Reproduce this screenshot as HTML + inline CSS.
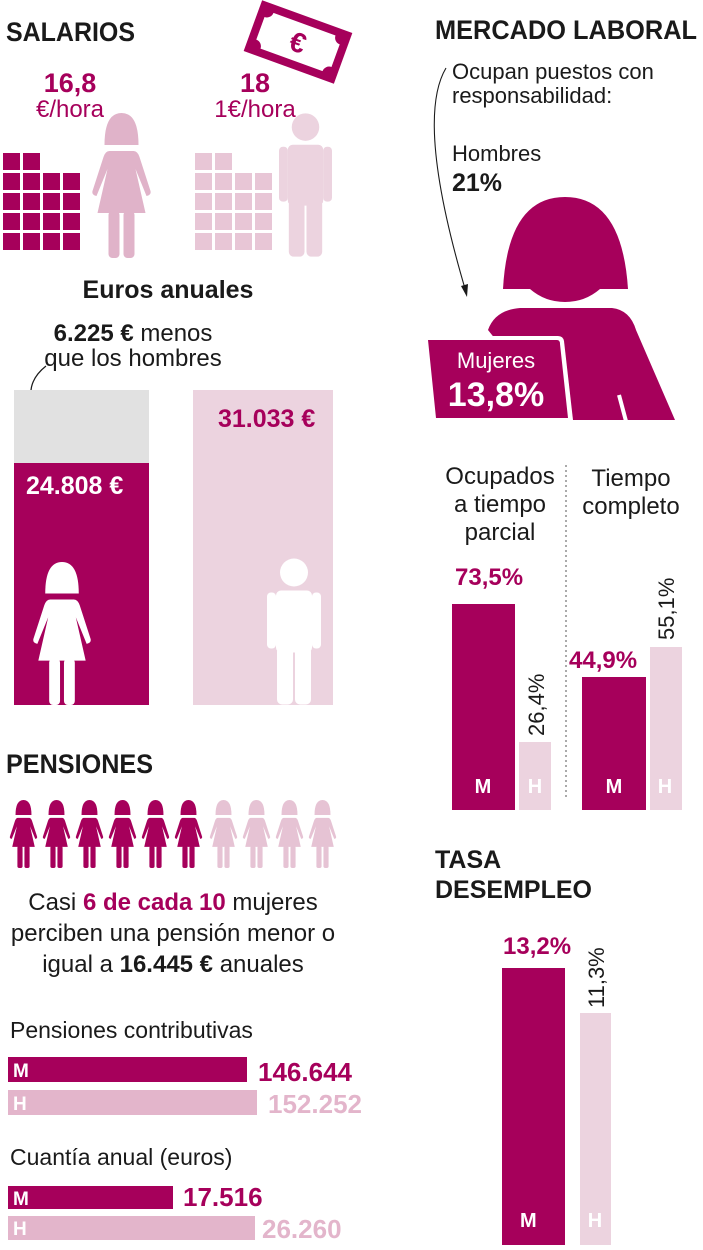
<!DOCTYPE html>
<html><head><meta charset="utf-8"><style>
html,body{margin:0;padding:0;background:#fff;}
svg{display:block;font-family:"Liberation Sans Narrow","Liberation Sans",sans-serif;}
.b{font-weight:bold;}
</style></head><body>
<svg width="703" height="1250" viewBox="0 0 703 1250" xmlns="http://www.w3.org/2000/svg">
<defs>
<symbol id="wom" viewBox="0 0 66 145">
<path d="M16 32 Q16 0 33 0 Q50 0 50 32 Z"/>
<path d="M21 38 H45 Q49 38 51 44 L62 78 Q63 82 58 83 L47 56 L57 100 H9 L19 56 L8 83 Q3 82 4 78 L15 44 Q17 38 21 38 Z"/>
<rect x="20" y="98" width="11" height="47" rx="4"/>
<rect x="35" y="98" width="11" height="47" rx="4"/>
</symbol>
<symbol id="man" viewBox="0 0 54 146">
<circle cx="27" cy="14" r="14"/>
<rect x="9" y="32" width="36" height="62" rx="5"/>
<rect x="0" y="34" width="9" height="56" rx="4"/>
<rect x="45" y="34" width="9" height="56" rx="4"/>
<rect x="10" y="88" width="16" height="58" rx="5"/>
<rect x="28" y="88" width="16" height="58" rx="5"/>
</symbol>
</defs>

<!-- SALARIOS -->
<text x="6" y="41" class="b" font-size="27" fill="#1a1a1a" textLength="129" lengthAdjust="spacingAndGlyphs">SALARIOS</text>
<g transform="translate(298,42) rotate(20)">
<rect x="-48" y="-27" width="96" height="54" fill="#a6005b"/>
<rect x="-40" y="-19" width="80" height="38" fill="#fff"/>
<circle cx="-40" cy="-19" r="7" fill="#a6005b"/><circle cx="40" cy="-19" r="7" fill="#a6005b"/>
<circle cx="-40" cy="19" r="7" fill="#a6005b"/><circle cx="40" cy="19" r="7" fill="#a6005b"/>
<text x="0" y="10" text-anchor="middle" class="b" font-size="28" fill="#a6005b">€</text>
</g>
<text x="70" y="92" text-anchor="middle" class="b" font-size="27" fill="#a6005b">16,8</text>
<text x="70" y="117" text-anchor="middle" font-size="24" fill="#a6005b">€/hora</text>
<text x="255" y="92" text-anchor="middle" class="b" font-size="27" fill="#a6005b">18</text>
<text x="255" y="117" text-anchor="middle" font-size="24" fill="#a6005b">1€/hora</text>
<g fill="#a6005b">
<rect x="3" y="153" width="17" height="17"/><rect x="23" y="153" width="17" height="17"/>
<rect x="3" y="173" width="17" height="17"/><rect x="23" y="173" width="17" height="17"/><rect x="43" y="173" width="17" height="17"/><rect x="63" y="173" width="17" height="17"/>
<rect x="3" y="193" width="17" height="17"/><rect x="23" y="193" width="17" height="17"/><rect x="43" y="193" width="17" height="17"/><rect x="63" y="193" width="17" height="17"/>
<rect x="3" y="213" width="17" height="17"/><rect x="23" y="213" width="17" height="17"/><rect x="43" y="213" width="17" height="17"/><rect x="63" y="213" width="17" height="17"/>
<rect x="3" y="233" width="17" height="17"/><rect x="23" y="233" width="17" height="17"/><rect x="43" y="233" width="17" height="17"/><rect x="63" y="233" width="17" height="17"/>
</g>
<g fill="#e8c6d6">
<rect x="195" y="153" width="17" height="17"/><rect x="215" y="153" width="17" height="17"/>
<rect x="195" y="173" width="17" height="17"/><rect x="215" y="173" width="17" height="17"/><rect x="235" y="173" width="17" height="17"/><rect x="255" y="173" width="17" height="17"/>
<rect x="195" y="193" width="17" height="17"/><rect x="215" y="193" width="17" height="17"/><rect x="235" y="193" width="17" height="17"/><rect x="255" y="193" width="17" height="17"/>
<rect x="195" y="213" width="17" height="17"/><rect x="215" y="213" width="17" height="17"/><rect x="235" y="213" width="17" height="17"/><rect x="255" y="213" width="17" height="17"/>
<rect x="195" y="233" width="17" height="17"/><rect x="215" y="233" width="17" height="17"/><rect x="235" y="233" width="17" height="17"/><rect x="255" y="233" width="17" height="17"/>
</g>
<use href="#wom" x="88" y="113" width="67" height="145" fill="#e0b3c9"/>
<use href="#man" x="279" y="112" width="53" height="146" fill="#ecd3df"/>

<text x="168" y="298" text-anchor="middle" class="b" font-size="25" fill="#1a1a1a">Euros anuales</text>
<text x="133" y="341" text-anchor="middle" font-size="24" fill="#1a1a1a"><tspan class="b">6.225 €</tspan> menos</text>
<text x="133" y="366" text-anchor="middle" font-size="24" fill="#1a1a1a">que los hombres</text>
<path d="M46 366 Q22 385 36 412" stroke="#1a1a1a" stroke-width="1.2" fill="none"/>
<path d="M31 405 L37 414 L39 403 Z" fill="#1a1a1a"/>
<rect x="14" y="390" width="135" height="73" fill="#e1e1e1"/>
<rect x="14" y="463" width="135" height="242" fill="#a6005b"/>
<text x="26" y="494" class="b" font-size="25" fill="#fff">24.808 €</text>
<rect x="193" y="390" width="140" height="315" fill="#ecd3df"/>
<text x="218" y="427" class="b" font-size="25" fill="#a6005b">31.033 €</text>
<use href="#wom" x="29" y="562" width="66" height="143" fill="#fff"/>
<use href="#man" x="267" y="558" width="54" height="147" fill="#fff"/>

<!-- PENSIONES -->
<text x="6" y="773" class="b" font-size="27" fill="#1a1a1a" textLength="147" lengthAdjust="spacingAndGlyphs">PENSIONES</text>
<g fill="#a6005b">
<use href="#wom" x="8" y="800" width="31" height="68"/>
<use href="#wom" x="41" y="800" width="31" height="68"/>
<use href="#wom" x="74" y="800" width="31" height="68"/>
<use href="#wom" x="107" y="800" width="31" height="68"/>
<use href="#wom" x="140" y="800" width="31" height="68"/>
<use href="#wom" x="173" y="800" width="31" height="68"/>
</g>
<g fill="#e6c3d4">
<use href="#wom" x="208" y="800" width="31" height="68"/>
<use href="#wom" x="241" y="800" width="31" height="68"/>
<use href="#wom" x="274" y="800" width="31" height="68"/>
<use href="#wom" x="307" y="800" width="31" height="68"/>
</g>
<text x="173" y="910" text-anchor="middle" font-size="24" fill="#1a1a1a">Casi <tspan class="b" fill="#a6005b">6 de cada 10</tspan> mujeres</text>
<text x="173" y="941" text-anchor="middle" font-size="24" fill="#1a1a1a">perciben una pensión menor o</text>
<text x="173" y="972" text-anchor="middle" font-size="24" fill="#1a1a1a">igual a <tspan class="b">16.445 €</tspan> anuales</text>

<text x="10" y="1038" font-size="23" fill="#1a1a1a">Pensiones contributivas</text>
<rect x="8" y="1057" width="239" height="25" fill="#a6005b"/>
<text x="13" y="1077" class="b" font-size="19" fill="#fff">M</text>
<text x="258" y="1081" class="b" font-size="26" fill="#a6005b">146.644</text>
<rect x="8" y="1090" width="249" height="25" fill="#e3b5cb"/>
<text x="13" y="1110" class="b" font-size="19" fill="#fff">H</text>
<text x="268" y="1113" class="b" font-size="26" fill="#e3b5cb">152.252</text>
<text x="10" y="1165" font-size="23" fill="#1a1a1a">Cuantía anual (euros)</text>
<rect x="8" y="1186" width="165" height="23" fill="#a6005b"/>
<text x="13" y="1205" class="b" font-size="19" fill="#fff">M</text>
<text x="183" y="1206" class="b" font-size="26" fill="#a6005b">17.516</text>
<rect x="8" y="1216" width="247" height="24" fill="#e3b5cb"/>
<text x="13" y="1235" class="b" font-size="19" fill="#fff">H</text>
<text x="262" y="1238" class="b" font-size="26" fill="#e3b5cb">26.260</text>

<!-- MERCADO LABORAL -->
<text x="435" y="39" class="b" font-size="27" fill="#1a1a1a" textLength="262" lengthAdjust="spacingAndGlyphs">MERCADO LABORAL</text>
<text x="452" y="79" font-size="22" fill="#1a1a1a">Ocupan puestos con</text>
<text x="452" y="103" font-size="22" fill="#1a1a1a">responsabilidad:</text>
<text x="452" y="161" font-size="22" fill="#1a1a1a">Hombres</text>
<text x="452" y="191" class="b" font-size="25" fill="#1a1a1a">21%</text>
<path d="M446 68 Q415 120 466 292" stroke="#1a1a1a" stroke-width="1.1" fill="none"/>
<path d="M461 286 L467 297 L468 284 Z" fill="#1a1a1a"/>
<path d="M503 289 Q508 197 565 197 Q622 197 628 289 Z" fill="#a6005b"/>
<path d="M530 289 Q545 302 565 302 Q585 302 600 289 Z" fill="#a6005b"/>
<path d="M488 330 Q495 310 520 308 H612 Q630 310 636 330 L675 420 H560 Z" fill="#a6005b"/>
<rect x="617" y="395" width="4" height="30" fill="#fff" transform="rotate(-15 619 395)"/>
<path d="M424 340 Q424 336 428 336 H558 Q563 336 564 341 L573 420 H432 Z" fill="#fff"/>
<path d="M428 340 H557 Q560 340 560 344 L568 418 H436 Z" fill="#a6005b"/>
<text x="496" y="368" text-anchor="middle" font-size="22" fill="#fff">Mujeres</text>
<text x="496" y="406" text-anchor="middle" class="b" font-size="34" fill="#fff">13,8%</text>

<text x="500" y="484" text-anchor="middle" font-size="24" fill="#1a1a1a">Ocupados</text>
<text x="500" y="512" text-anchor="middle" font-size="24" fill="#1a1a1a">a tiempo</text>
<text x="500" y="540" text-anchor="middle" font-size="24" fill="#1a1a1a">parcial</text>
<text x="631" y="486" text-anchor="middle" font-size="24" fill="#1a1a1a">Tiempo</text>
<text x="631" y="514" text-anchor="middle" font-size="24" fill="#1a1a1a">completo</text>
<line x1="566" y1="465" x2="566" y2="800" stroke="#555" stroke-width="1" stroke-dasharray="2,3"/>
<text x="455" y="585" class="b" font-size="24" fill="#a6005b">73,5%</text>
<rect x="452" y="604" width="63" height="206" fill="#a6005b"/>
<text x="483" y="793" text-anchor="middle" class="b" font-size="20" fill="#fff">M</text>
<rect x="519" y="742" width="32" height="68" fill="#ecd3df"/>
<text x="535" y="793" text-anchor="middle" class="b" font-size="20" fill="#fff">H</text>
<text transform="translate(544,736) rotate(-90)" font-size="22" fill="#1a1a1a">26,4%</text>
<text x="569" y="668" class="b" font-size="24" fill="#a6005b">44,9%</text>
<rect x="582" y="677" width="64" height="133" fill="#a6005b"/>
<text x="614" y="793" text-anchor="middle" class="b" font-size="20" fill="#fff">M</text>
<rect x="650" y="647" width="32" height="163" fill="#ecd3df"/>
<text x="665" y="793" text-anchor="middle" class="b" font-size="20" fill="#fff">H</text>
<text transform="translate(674,640) rotate(-90)" font-size="22" fill="#1a1a1a">55,1%</text>

<text x="435" y="868" class="b" font-size="25" fill="#1a1a1a">TASA</text>
<text x="435" y="898" class="b" font-size="25" fill="#1a1a1a">DESEMPLEO</text>
<text x="503" y="954" class="b" font-size="24" fill="#a6005b">13,2%</text>
<rect x="502" y="968" width="63" height="277" fill="#a6005b"/>
<text x="520" y="1227" class="b" font-size="20" fill="#fff">M</text>
<rect x="580" y="1013" width="31" height="232" fill="#ecd3df"/>
<text x="595" y="1227" text-anchor="middle" class="b" font-size="20" fill="#fff">H</text>
<text transform="translate(604,1008) rotate(-90)" font-size="22" fill="#1a1a1a">11,3%</text>
</svg>
</body></html>
